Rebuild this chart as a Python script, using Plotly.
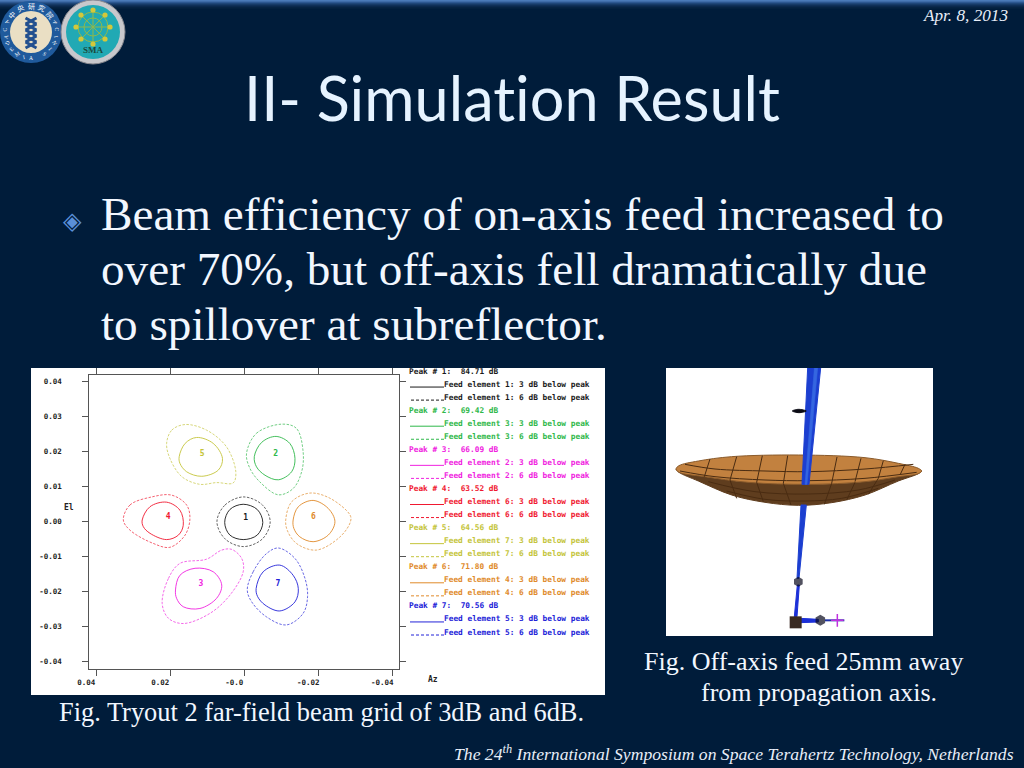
import math
import plotly.graph_objects as go

# ---------- data ----------
beam_ids = ["1", "2", "3", "4", "5", "6", "7"]
beam_colors = ["#1a1a1a", "#2fb84a", "#f022e0", "#f01830", "#c4c43a", "#e08a2a", "#2222d8"]
label_az = [-.0004, -.0085, .0117, .0206, .0114, -.0187, -.0091]
label_el = [.0010, .0194, -.0178, .0014, .0194, .0014, -.0178]

b1_3_az = [.0053, .0039, .0003, -.0035, -.0050, -.0035, .0003, .0039]
b1_3_el = [-.0002, .0035, .0050, .0035, -.0002, -.0038, -.0051, -.0038]
b1_6_az = [.0074, .0052, .0002, -.0049, -.0070, -.0049, .0002, .0052]
b1_6_el = [0, .0048, .0071, .0048, 0, -.0049, -.0071, -.0049]
b2_3_az = [-.0027, -.0047, -.0086, -.0123, -.0137, -.0128, -.0092, -.0056, -.0033]
b2_3_el = [.0186, .0227, .0244, .0224, .0181, .0143, .0120, .0133, .0157]
b2_6_az = [-.0006, -.0033, -.0101, -.0141, -.0159, -.0155, -.0132, -.0092, -.0042, -.0015]
b2_6_el = [.0195, .0253, .0279, .0267, .0200, .0143, .0095, .0077, .0114, .0153]
b3_3_az = [.0186, .0174, .0133, .0084, .0061, .0075, .0120, .0165, .0183]
b3_3_el = [-.0195, -.0153, -.0133, -.0143, -.0181, -.0219, -.0248, -.0243, -.0219]
b3_6_az = [.0222, .0205, .0174, .0102, .0061, .0034, .0007, .0003, .0039, .0093, .0165, .0205]
b3_6_el = [-.0234, -.0162, -.0119, -.0107, -.0081, -.0079, -.0105, -.0143, -.0210, -.0262, -.0291, -.0276]
b4_3_az = [.0276, .0255, .0210, .0174, .0165, .0178, .0210, .0255, .0273]
b4_3_el = [.0005, .0043, .0056, .0033, -.0010, -.0038, -.0051, -.0033, -.0014]
b4_6_az = [.0327, .0309, .0250, .0196, .0156, .0147, .0160, .0201, .0246, .0309]
b4_6_el = [.0005, .0048, .0071, .0076, .0048, .0010, -.0038, -.0073, -.0062, -.0024]
b5_3_az = [.0176, .0160, .0129, .0084, .0059, .0070, .0115, .0156, .0174]
b5_3_el = [.0186, .0224, .0241, .0224, .0181, .0148, .0130, .0143, .0167]
b5_6_az = [.0210, .0196, .0160, .0102, .0048, .0023, .0030, .0075, .0120, .0169, .0201]
b5_6_el = [.0224, .0262, .0278, .0262, .0214, .0143, .0111, .0112, .0107, .0129, .0181]
b6_3_az = [-.0132, -.0146, -.0186, -.0227, -.0245, -.0227, -.0186, -.0150, -.0134]
b6_3_el = [.0005, .0043, .0061, .0038, 0, -.0038, -.0057, -.0043, -.0019]
b6_6_az = [-.0112, -.0128, -.0177, -.0232, -.0286, -.0287, -.0259, -.0195, -.0141, -.0116]
b6_6_el = [.0005, .0057, .0082, .0067, .0019, 0, -.0043, -.0081, -.0062, -.0024]
b7_3_az = [-.0032, -.0051, -.0096, -.0132, -.0146, -.0137, -.0096, -.0056, -.0036]
b7_3_el = [-.0191, -.0143, -.0124, -.0153, -.0191, -.0229, -.0255, -.0238, -.0214]
b7_6_az = [-.0008, -.0024, -.0060, -.0092, -.0137, -.0164, -.0171, -.0159, -.0114, -.0060, -.0020]
b7_6_el = [-.0195, -.0143, -.0091, -.0075, -.0105, -.0162, -.0214, -.0262, -.0295, -.0272, -.0229]

contours_3db = [(b1_3_az, b1_3_el), (b2_3_az, b2_3_el), (b3_3_az, b3_3_el), (b4_3_az, b4_3_el),
                (b5_3_az, b5_3_el), (b6_3_az, b6_3_el), (b7_3_az, b7_3_el)]
contours_6db = [(b1_6_az, b1_6_el), (b2_6_az, b2_6_el), (b3_6_az, b3_6_el), (b4_6_az, b4_6_el),
                (b5_6_az, b5_6_el), (b6_6_az, b6_6_el), (b7_6_az, b7_6_el)]

x_ticks = [.04, .02, 0, -.02, -.04]
x_tick_labels = ["0.04", "0.02", "-0.0", "-0.02", "-0.04"]
y_ticks = [.04, .03, .02, .01, 0, -.01, -.02, -.03, -.04]
y_tick_labels = ["0.04", "0.03", "0.02", "0.01", "0.00", "-0.01", "-0.02", "-0.03", "-0.04"]

peak_db = ["84.71", "69.42", "66.09", "63.52", "64.56", "71.80", "70.56"]
feed_elements = ["1", "3", "2", "6", "7", "4", "5"]

# dish picture, in units of the 3x crop
dish_outer_x = [400, 500, 600, 700, 760, 770, 760, 600, 430, 250, 120, 42, 33, 42, 100, 200, 300, 400]
dish_outer_y = [421, 413, 390, 348, 326, 318, 322, 350, 358, 352, 335, 320, 312, 322, 348, 390, 412, 421]
dish_inner_x = [400, 600, 700, 760, 770, 760, 700, 600, 430, 250, 120, 42, 33, 42, 100, 200, 400]
dish_inner_y = [270, 278, 295, 310, 318, 326, 335, 350, 358, 352, 335, 322, 312, 302, 288, 275, 270]
grid_lines = [
    ([135, 118], [282, 335]), ([215, 195], [275, 345]), ([292, 275], [272, 352]), ([368, 355], [272, 355]),
    ([516, 500], [276, 355]), ([588, 570], [280, 350]), ([655, 640], [287, 340]), ([720, 705], [298, 330]),
    ([195, 215], [345, 400]), ([275, 295], [352, 410]), ([355, 378], [355, 420]), ([500, 478], [355, 418]),
    ([570, 545], [352, 405]), ([640, 610], [340, 388]),
    ([60, 150, 300, 430, 600, 745], [298, 312, 318, 320, 312, 298]),
    ([45, 150, 300, 430, 600, 755], [318, 335, 345, 347, 340, 322]),
    ([130, 270, 430, 580, 690], [350, 380, 387, 375, 345]),
    ([185, 300, 420, 530, 640], [378, 403, 408, 400, 370]),
]
beam_upper_x = [428, 467, 432, 411, 428]
beam_upper_y = [9, 9, 358, 358, 9]
beam_streak_x = [448, 458, 426, 420, 448]
beam_streak_y = [9, 9, 358, 358, 9]
beam_mid_x = [408, 424, 402, 396, 408]
beam_mid_y = [420, 420, 640, 640, 420]
beam_low_x = [397, 403, 396, 388, 397]
beam_low_y = [660, 660, 755, 755, 660]
beam_h_x = [405, 460, 460, 405, 405]
beam_h_y = [760, 763, 771, 773, 760]
beam_tail_x = [480, 538]
beam_tail_y = [766, 766]
mirror_x = [382, 400, 424, 402, 382]
mirror_y = [138, 133, 138, 143, 138]

# ---------- layout helpers ----------
W, H = 1024, 768
def px(x): return x / W
def py(y): return 1 - y / H

BG = "#001c3a"
annotations, shapes = [], []

def text(x, y, s, size, color="#ffffff", family="Liberation Serif", anchor="left", italic=False, angle=0, bold=False):
    if italic:
        s = "<i>" + s + "</i>"
    if bold:
        s = "<b>" + s + "</b>"
    annotations.append(dict(x=px(x), y=py(y), xref="paper", yref="paper", text=s, showarrow=False,
                            xanchor=anchor, yanchor="middle", textangle=angle,
                            font=dict(family=family, size=size, color=color)))

def rect(x0, y0, x1, y1, fill, line=None, width=0, layer="below"):
    shapes.append(dict(type="rect", xref="paper", yref="paper", x0=px(x0), x1=px(x1), y0=py(y0), y1=py(y1),
                       fillcolor=fill, line=dict(color=line or fill, width=width), layer=layer))

def circ(cx, cy, r, fill, line=None, width=0, layer="above"):
    shapes.append(dict(type="circle", xref="paper", yref="paper", x0=px(cx - r), x1=px(cx + r),
                       y0=py(cy + r), y1=py(cy - r), fillcolor=fill,
                       line=dict(color=line or fill, width=width), layer=layer))

def segment(x0, y0, x1, y1, color, width=1, dash="solid", layer="above"):
    shapes.append(dict(type="line", xref="paper", yref="paper", x0=px(x0), x1=px(x1), y0=py(y0), y1=py(y1),
                       line=dict(color=color, width=width, dash=dash), layer=layer))

# top glow of the slide background
for i, c in enumerate(["#4a7ab8", "#3f6ca8", "#2c5790", "#1f4678", "#163a66", "#0f2f57", "#0a284c", "#062342", "#03203e"]):
    rect(0, i, W, i + 1, c)

# white panels
rect(31, 368, 605, 695, "#ffffff")
rect(666, 368, 933, 636, "#ffffff")

fig = go.Figure()

# ---------- contour chart ----------
for color, (a, e) in zip(beam_colors, contours_3db):
    fig.add_trace(go.Scatter(x=a + a[:1], y=e + e[:1], mode="lines", showlegend=False, hoverinfo="skip",
                             line=dict(color=color, width=0.9, shape="spline", smoothing=1)))
for color, (a, e) in zip(beam_colors, contours_6db):
    fig.add_trace(go.Scatter(x=a + a[:1], y=e + e[:1], mode="lines", showlegend=False, hoverinfo="skip", opacity=0.85,
                             line=dict(color=color, width=0.8, shape="spline", smoothing=1, dash="2.5px,1.5px")))
fig.add_trace(go.Scatter(x=label_az, y=label_el, mode="text", text=beam_ids, showlegend=False, hoverinfo="skip",
                         textfont=dict(family="DejaVu Sans Mono", size=8, color=beam_colors, weight="bold")))

axis_style = dict(showgrid=False, zeroline=False, showline=True, linecolor="#555555", linewidth=1,
                  ticks="outside", ticklen=6, tickcolor="#555555", mirror="ticks",
                  tickfont=dict(family="DejaVu Sans Mono", size=7.5, color="#222222", weight="bold"))

# ---------- dish picture ----------
def dish(xs, ys, fill=None, line=None, width=1, mode="lines", shape="linear"):
    fig.add_trace(go.Scatter(x=xs, y=ys, mode=mode, xaxis="x2", yaxis="y2", showlegend=False, hoverinfo="skip",
                             fill="toself" if fill else None, fillcolor=fill,
                             line=dict(color=line or fill, width=width, shape=shape)))

dish(dish_outer_x, dish_outer_y, fill="#5f3d1e", line="#5f3d1e", shape="spline")
dish(dish_inner_x, dish_inner_y, fill="#c2813f", line="#8a5a2a", shape="spline")
for gx, gy in grid_lines:
    dish(gx, gy, line="#4a2c12", width=1, shape="spline")
dish(beam_upper_x, beam_upper_y, fill="#1c3fd0", line="#1c3fd0")
dish(beam_streak_x, beam_streak_y, fill="#3566e0", line="#3566e0", width=0.5)
dish(beam_mid_x, beam_mid_y, fill="#1c3fd0", line="#1c3fd0")
dish(beam_low_x, beam_low_y, fill="#1c30d8", line="#1c30d8")
dish(beam_h_x, beam_h_y, fill="#1c30d8", line="#1c30d8")
dish(beam_tail_x, beam_tail_y, line="#1c30a8", width=2)
dish(mirror_x, mirror_y, fill="#0a0a14", line="#0a0a14", shape="spline")
fig.add_trace(go.Scatter(x=[400, 466], y=[650, 766], mode="markers", xaxis="x2", yaxis="y2",
                         showlegend=False, hoverinfo="skip",
                         marker=dict(color="#08081c", symbol="hexagon", size=[10, 11], line=dict(width=0))))
fig.add_trace(go.Scatter(x=[392], y=[772], mode="markers", xaxis="x2", yaxis="y2", showlegend=False, hoverinfo="skip",
                         marker=dict(color="#3a2a22", symbol="square", size=12, line=dict(width=0))))
fig.add_trace(go.Scatter(x=[517], y=[766], mode="markers", xaxis="x2", yaxis="y2", showlegend=False, hoverinfo="skip",
                         marker=dict(color="#c030e0", symbol="cross-thin", size=9, line=dict(color="#c030e0", width=1.5))))

# ---------- legend column of the contour chart ----------
step = 13.05
for i, (color, peak, feed) in enumerate(zip(beam_colors, peak_db, feed_elements)):
    y0 = 371 + i * 3 * step
    txt = dict(size=7.8, color=color, family="DejaVu Sans Mono", bold=True)
    text(407, y0, f"Peak # {i + 1}:  {peak} dB", **txt)
    text(442, y0 + step, f"Feed element {feed}: 3 dB below peak", **txt)
    text(442, y0 + 2 * step, f"Feed element {feed}: 6 dB below peak", **txt)
    segment(410, y0 + step + 3, 444, y0 + step + 3, color)
    segment(411, y0 + 2 * step + 3, 444, y0 + 2 * step + 3, color, dash="3px,2px")

# axis names
text(62, 507, "El", 8, "#222222", "DejaVu Sans Mono", bold=True)
text(426, 679, "Az", 8, "#222222", "DejaVu Sans Mono", bold=True)

# ---------- slide text ----------
text(512, 97, "II- Simulat\u200cion Result", 61.2, "#e6f3ff", "Lato", anchor="center")
text(99, 214, "Beam efficiency of on-axis feed increased to", 47.2, "#f2f7ff")
text(99, 269, "over 70%, but off-axis fell dramatically due", 47.2, "#f2f7ff")
text(99, 324, "to spillover at subreflector.", 47.2, "#f2f7ff")
text(72, 221, "◈", 24, "#5a8fd8", "DejaVu Sans", anchor="center")
text(57, 712, "Fig. Tryout 2 far-field beam grid of 3dB and 6dB.", 26.4, "#f2f7ff")
text(642, 661, "Fig. Off-axis feed 25mm away", 26, "#f2f7ff")
text(699, 692, "from propagation axis.", 26, "#f2f7ff")
text(1010, 15, "Apr. 8, 2013", 17.2, "#e8eef8", anchor="right", italic=True)
text(1016, 753, "The 24<sup>th</sup> International Symposium on Space Terahertz Technology, Netherlands", 17.65,
     "#e8eef8", anchor="right", italic=True)

# ---------- logos ----------
circ(31, 32, 31, "#1f5a9c")
circ(31, 32, 21, "#eadfc4")
helix_a_x = [26, 37, 26, 37, 26, 37]
helix_b_x = [37, 26, 37, 26, 37, 26]
helix_y = [18, 24, 30, 36, 42, 48]
for hx in (helix_a_x, helix_b_x):
    for j in range(len(helix_y) - 1):
        segment(hx[j] - 0.5, helix_y[j], hx[j + 1] - 0.5, helix_y[j + 1], "#23508f", width=3)
for ch, deg in zip("中央研究院", [-48, -24, 0, 24, 48]):
    rad = math.radians(deg)
    text(31 + 26 * math.sin(rad), 32 - 26 * math.cos(rad), ch, 7, "#ffffff", "Noto Sans CJK TC",
         anchor="center", angle=deg)
for ch, deg in zip("ACADEMIA SINICA", range(-112, 113, 16)):
    if ch == " ":
        continue
    rad = math.radians(-deg)
    text(31 + 26 * math.sin(rad + math.pi), 32 - 26 * math.cos(rad + math.pi), ch, 5.5, "#ffffff",
         "Liberation Serif", anchor="center", angle=deg)

circ(93, 32, 32, "#c8c8cc", line="#8a8a90", width=1)
circ(93, 32, 27, "#21a9b4")
circ(93, 27, 15, "rgba(0,0,0,0)", line="#8fb84a", width=1)
circ(93, 27, 9, "rgba(0,0,0,0)", line="#8fb84a", width=1)
for k in range(8):
    rad = math.radians(k * 45)
    segment(93, 27, 93 + 17 * math.cos(rad), 27 + 17 * math.sin(rad), "#8fb84a", width=1)
    circ(93 + 17 * math.cos(rad), 27 + 17 * math.sin(rad), 2.6, "#d4c83a")
text(93, 50, "SMA", 9, "#1c4a3a", "Liberation Serif", anchor="center", bold=True)

fig.update_layout(
    width=W, height=H, autosize=False, margin=dict(l=0, r=0, t=0, b=0, autoexpand=False),
    paper_bgcolor=BG, plot_bgcolor="rgba(0,0,0,0)", showlegend=False,
    annotations=annotations, shapes=shapes,
    xaxis=dict(domain=[px(89.3), px(399.3)], range=[.0419, -.0419], tickvals=x_ticks, ticktext=x_tick_labels,
               ticklabelshift=10, **axis_style),
    yaxis=dict(domain=[py(669), py(375)], range=[-.0421, .04196], tickvals=y_ticks, ticktext=y_tick_labels,
               ticklabelstandoff=19, **axis_style),
    xaxis2=dict(domain=[px(666), px(933)], range=[3, 804], visible=False, anchor="y2", fixedrange=True),
    yaxis2=dict(domain=[py(636), py(368)], range=[813, 9], visible=False, anchor="x2", fixedrange=True),
)

fig.write_html("out.html", post_script="document.body.style.margin='0';document.body.style.background='#001c3a';document.body.style.overflow='hidden';",
               config=dict(displayModeBar=False))
